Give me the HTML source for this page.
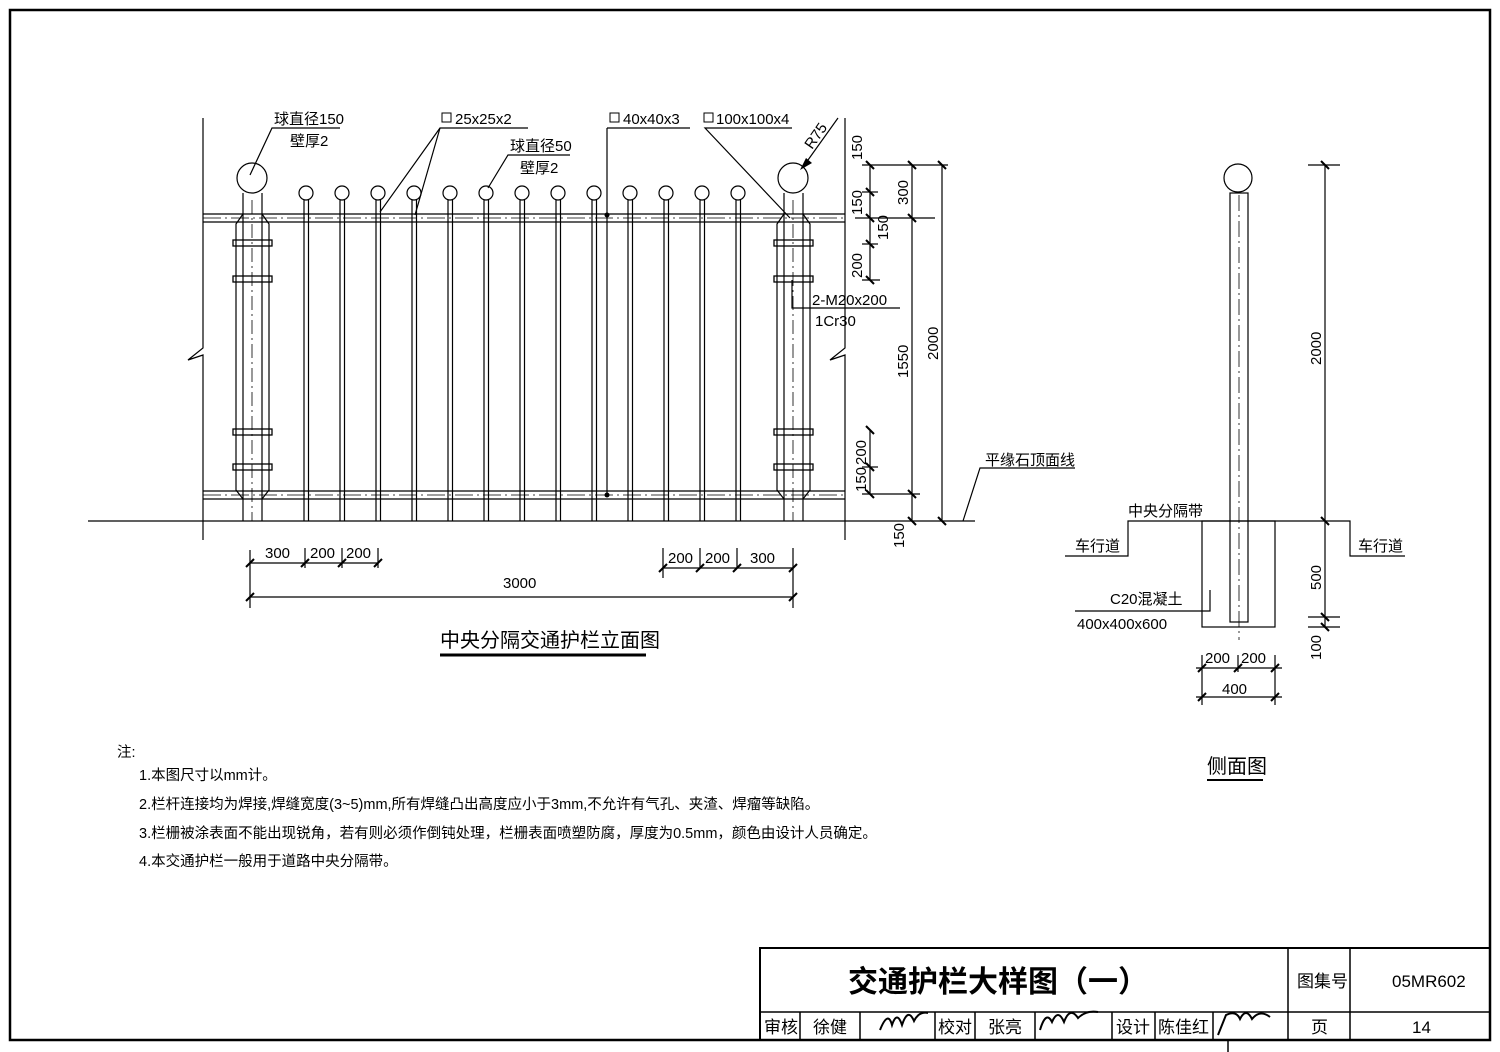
<!DOCTYPE html>
<html><head><meta charset="utf-8"><style>
html,body{margin:0;padding:0;background:#fff}
svg{display:block}
text{font-family:"Liberation Sans","Noto Sans CJK SC",sans-serif;fill:#000}
</style></head><body>
<svg width="1500" height="1052" viewBox="0 0 1500 1052" xmlns="http://www.w3.org/2000/svg">
<g fill="none" stroke="#000" stroke-width="1.2">
<!-- frame -->
<rect x="10" y="10" width="1480" height="1030" stroke-width="2.5"/>
<!-- title block -->
<rect x="760" y="948" width="730" height="92" stroke-width="2"/>
<line x1="760" y1="1012" x2="1490" y2="1012" stroke-width="1.5"/>
<line x1="1288" y1="948" x2="1288" y2="1040" stroke-width="1.5"/>
<line x1="1350" y1="948" x2="1350" y2="1040" stroke-width="1.5"/>
<g stroke-width="1.5">
<line x1="800" y1="1012" x2="800" y2="1040"/><line x1="860" y1="1012" x2="860" y2="1040"/>
<line x1="935" y1="1012" x2="935" y2="1040"/><line x1="975" y1="1012" x2="975" y2="1040"/>
<line x1="1035" y1="1012" x2="1035" y2="1040"/><line x1="1112" y1="1012" x2="1112" y2="1040"/>
<line x1="1155" y1="1012" x2="1155" y2="1040"/><line x1="1213" y1="1012" x2="1213" y2="1040"/>
</g>
<line x1="1228" y1="1040" x2="1228" y2="1052" stroke-width="1.5"/>

<!-- ground -->
<line x1="88" y1="521" x2="975" y2="521"/>
<!-- break lines -->
<polyline points="203,118 203,348 188,360 203,355 203,540"/>
<polyline points="845,118 845,348 830,360 845,355 845,540"/>
<!-- rails -->
<line x1="203" y1="214" x2="845" y2="214"/><line x1="203" y1="222" x2="845" y2="222"/>
<line x1="203" y1="491" x2="845" y2="491"/><line x1="203" y1="499" x2="845" y2="499"/>
<g stroke-dasharray="18,4,2,4" stroke-width="0.8">
<line x1="203" y1="218" x2="845" y2="218"/><line x1="203" y1="495" x2="845" y2="495"/>
</g>
<!-- left post -->
<circle cx="252" cy="178" r="15"/>
<line x1="243" y1="193" x2="243" y2="521"/><line x1="262" y1="193" x2="262" y2="521"/>
<polyline points="243,214 236,224 236,490 243,499"/><polyline points="262,214 269,224 269,490 262,499"/>
<line x1="252" y1="200" x2="252" y2="521" stroke-dasharray="14,4,2,4" stroke-width="0.8"/>
<!-- right post -->
<circle cx="793" cy="178" r="15"/>
<line x1="784" y1="193" x2="784" y2="521"/><line x1="803" y1="193" x2="803" y2="521"/>
<polyline points="784,214 777,224 777,490 784,499"/><polyline points="803,214 810,224 810,490 803,499"/>
<line x1="793" y1="200" x2="793" y2="521" stroke-dasharray="14,4,2,4" stroke-width="0.8"/>
<!-- clamps -->
<g stroke-width="1.3">
<rect x="233" y="240" width="39" height="6"/><rect x="233" y="276" width="39" height="6"/>
<rect x="233" y="429" width="39" height="6"/><rect x="233" y="464" width="39" height="6"/>
<rect x="774" y="240" width="39" height="6"/><rect x="774" y="276" width="39" height="6"/>
<rect x="774" y="429" width="39" height="6"/><rect x="774" y="464" width="39" height="6"/>
</g>
<!-- pickets -->
<g id="pk">
<circle cx="306" cy="193" r="7"/><line x1="304" y1="200" x2="304" y2="521"/><line x1="308.5" y1="200" x2="308.5" y2="521"/>
</g>
<use href="#pk" x="36"/><use href="#pk" x="72"/><use href="#pk" x="108"/><use href="#pk" x="144"/>
<use href="#pk" x="180"/><use href="#pk" x="216"/><use href="#pk" x="252"/><use href="#pk" x="288"/>
<use href="#pk" x="324"/><use href="#pk" x="360"/><use href="#pk" x="396"/><use href="#pk" x="432"/>
<line x1="607" y1="128" x2="607" y2="495"/>
<!-- leaders -->
<polyline points="340,128 272,128 250,175"/>
<polyline points="528,128 440,128 380,212"/><line x1="440" y1="128" x2="415" y2="215"/>
<polyline points="570,155 508,155 488,188"/>
<line x1="607" y1="128" x2="690" y2="128"/>
<polyline points="792,128 705,128 790,218"/>
<line x1="838" y1="118" x2="803" y2="167"/>
<polyline points="792,280 792,308 900,308"/>
<polyline points="1075,468 980,468 963,521"/>
<!-- right dims -->
<line x1="870" y1="165" x2="870" y2="280"/>
<line x1="912" y1="165" x2="912" y2="521"/>
<line x1="942" y1="165" x2="942" y2="521"/>
<line x1="870" y1="430" x2="870" y2="494"/>
<line x1="862" y1="165" x2="948" y2="165"/>
<line x1="862" y1="192" x2="878" y2="192"/>
<line x1="855" y1="218" x2="935" y2="218"/>
<line x1="862" y1="244" x2="878" y2="244"/>
<line x1="862" y1="280" x2="880" y2="280"/>
<line x1="862" y1="467" x2="878" y2="467"/>
<line x1="862" y1="494" x2="920" y2="494"/>
<g stroke-width="2">
<line x1="866" y1="161" x2="874" y2="169"/><line x1="866" y1="188" x2="874" y2="196"/>
<line x1="866" y1="214" x2="874" y2="222"/><line x1="866" y1="240" x2="874" y2="248"/>
<line x1="866" y1="276" x2="874" y2="284"/><line x1="866" y1="426" x2="874" y2="434"/>
<line x1="866" y1="463" x2="874" y2="471"/><line x1="866" y1="490" x2="874" y2="498"/>
<line x1="908" y1="161" x2="916" y2="169"/><line x1="908" y1="214" x2="916" y2="222"/>
<line x1="908" y1="490" x2="916" y2="498"/><line x1="908" y1="517" x2="916" y2="525"/>
<line x1="938" y1="161" x2="946" y2="169"/><line x1="938" y1="517" x2="946" y2="525"/>
</g>
<!-- bottom dims -->
<line x1="250" y1="550" x2="250" y2="608"/><line x1="305" y1="548" x2="305" y2="568"/>
<line x1="342" y1="548" x2="342" y2="568"/><line x1="378" y1="548" x2="378" y2="568"/>
<line x1="663" y1="548" x2="663" y2="578"/><line x1="700" y1="548" x2="700" y2="568"/>
<line x1="737" y1="548" x2="737" y2="568"/><line x1="793" y1="548" x2="793" y2="608"/>
<line x1="250" y1="563" x2="378" y2="563"/><line x1="663" y1="568" x2="793" y2="568"/>
<line x1="250" y1="597" x2="793" y2="597"/>
<g stroke-width="2">
<line x1="246" y1="567" x2="254" y2="559"/><line x1="301" y1="567" x2="309" y2="559"/>
<line x1="338" y1="567" x2="346" y2="559"/><line x1="374" y1="567" x2="382" y2="559"/>
<line x1="659" y1="572" x2="667" y2="564"/><line x1="696" y1="572" x2="704" y2="564"/>
<line x1="733" y1="572" x2="741" y2="564"/><line x1="789" y1="572" x2="797" y2="564"/>
<line x1="246" y1="601" x2="254" y2="593"/><line x1="789" y1="601" x2="797" y2="593"/>
</g>
<line x1="440" y1="655" x2="646" y2="655" stroke-width="3"/>

<!-- side view -->
<circle cx="1238" cy="178" r="14"/>
<rect x="1230" y="193" width="18" height="429"/>
<line x1="1239" y1="195" x2="1239" y2="640" stroke-dasharray="16,4,2,4" stroke-width="0.8"/>
<polyline points="1065,556 1128,556 1128,521 1350,521 1350,556 1405,556"/>
<rect x="1202" y="521" width="73" height="106"/>
<polyline points="1075,611 1210,611 1210,590"/>
<line x1="1325" y1="165" x2="1325" y2="627"/>
<line x1="1308" y1="165" x2="1340" y2="165"/><line x1="1308" y1="617" x2="1340" y2="617"/><line x1="1308" y1="627" x2="1340" y2="627"/>
<g stroke-width="2">
<line x1="1321" y1="161" x2="1329" y2="169"/><line x1="1321" y1="517" x2="1329" y2="525"/>
<line x1="1321" y1="613" x2="1329" y2="621"/><line x1="1321" y1="623" x2="1329" y2="631"/>
</g>
<line x1="1202" y1="655" x2="1202" y2="705"/><line x1="1238" y1="655" x2="1238" y2="672"/><line x1="1275" y1="655" x2="1275" y2="705"/>
<line x1="1196" y1="668" x2="1282" y2="668"/><line x1="1196" y1="697" x2="1282" y2="697"/>
<g stroke-width="2">
<line x1="1198" y1="672" x2="1206" y2="664"/><line x1="1234" y1="672" x2="1242" y2="664"/><line x1="1271" y1="672" x2="1279" y2="664"/>
<line x1="1198" y1="701" x2="1206" y2="693"/><line x1="1271" y1="701" x2="1279" y2="693"/>
</g>
<line x1="1207" y1="780" x2="1263" y2="780" stroke-width="2"/>
</g>
<polygon points="800,170 806,158 812,163" fill="#000"/>
<circle cx="607" cy="215" r="2.5" fill="#000"/><circle cx="607" cy="495" r="2.5" fill="#000"/>

<!-- texts -->
<g font-size="15">
<text x="274" y="124">球直径150</text><text x="290" y="146">壁厚2</text>
<text x="455" y="124">25x25x2</text><rect x="442" y="113" width="9" height="9" fill="none" stroke="#000"/>
<text x="510" y="151">球直径50</text><text x="520" y="173">壁厚2</text>
<text x="623" y="124">40x40x3</text><rect x="610" y="113" width="9" height="9" fill="none" stroke="#000"/>
<text x="716" y="124">100x100x4</text><rect x="704" y="113" width="9" height="9" fill="none" stroke="#000"/>
<text x="812" y="150" transform="rotate(-55 812 150)">R75</text>
<text x="812" y="305">2-M20x200</text><text x="815" y="326">1Cr30</text>
<text x="985" y="465">平缘石顶面线</text>
<text x="265" y="558">300</text><text x="310" y="558">200</text><text x="346" y="558">200</text>
<text x="668" y="563">200</text><text x="705" y="563">200</text><text x="750" y="563">300</text>
<text x="503" y="588">3000</text>
<text x="1128" y="516">中央分隔带</text><text x="1075" y="551">车行道</text><text x="1358" y="551">车行道</text>
<text x="1110" y="604">C20混凝土</text><text x="1077" y="629">400x400x600</text>
<text x="1205" y="663">200</text><text x="1241" y="663">200</text><text x="1222" y="694">400</text>
</g>
<g font-size="15">
<text transform="translate(862,160) rotate(-90)">150</text>
<text transform="translate(862,215) rotate(-90)">150</text>
<text transform="translate(888,240) rotate(-90)">150</text>
<text transform="translate(862,278) rotate(-90)">200</text>
<text transform="translate(908,205) rotate(-90)">300</text>
<text transform="translate(908,378) rotate(-90)">1550</text>
<text transform="translate(938,360) rotate(-90)">2000</text>
<text transform="translate(866,465) rotate(-90)">200</text>
<text transform="translate(866,492) rotate(-90)">150</text>
<text transform="translate(904,548) rotate(-90)">150</text>
<text transform="translate(1321,365) rotate(-90)">2000</text>
<text transform="translate(1321,590) rotate(-90)">500</text>
<text transform="translate(1321,660) rotate(-90)">100</text>
</g>
<text x="440" y="647" font-size="20">中央分隔交通护栏立面图</text>
<text x="1207" y="773" font-size="20">侧面图</text>
<g font-size="14.5">
<text x="117" y="757">注:</text>
<text x="139" y="780">1.本图尺寸以mm计。</text>
<text x="139" y="809">2.栏杆连接均为焊接,焊缝宽度(3~5)mm,所有焊缝凸出高度应小于3mm,不允许有气孔、夹渣、焊瘤等缺陷。</text>
<text x="139" y="838">3.栏栅被涂表面不能出现锐角，若有则必须作倒钝处理，栏栅表面喷塑防腐，厚度为0.5mm，颜色由设计人员确定。</text>
<text x="139" y="866">4.本交通护栏一般用于道路中央分隔带。</text>
</g>
<text x="848" y="992" font-size="30" font-weight="bold">交通护栏大样图（一）</text>
<text x="1297" y="987" font-size="17">图集号</text>
<text x="1392" y="987" font-size="17" font-family="Liberation Serif,serif">05MR602</text>
<g font-size="17">
<text x="764" y="1033">审核</text><text x="813" y="1033">徐健</text>
<text x="938" y="1033">校对</text><text x="988" y="1033">张亮</text>
<text x="1116" y="1033">设计</text><text x="1158" y="1033">陈佳红</text>
<text x="1311" y="1033">页</text><text x="1412" y="1033" font-family="Liberation Serif,serif">14</text>
</g>
<g fill="none" stroke="#000" stroke-width="2">
<path d="M880,1030 q8,-20 12,-5 q5,-15 10,0 q6,-18 12,-4 q5,-10 14,-8"/>
<path d="M1040,1030 q6,-20 12,-8 q6,-14 12,0 q6,-16 14,-4 q8,-8 20,-6"/>
<path d="M1218,1035 l8,-20 q10,-5 14,4 q6,-12 12,0 q8,-10 18,-2"/>
</g>
</svg>
</body></html>
